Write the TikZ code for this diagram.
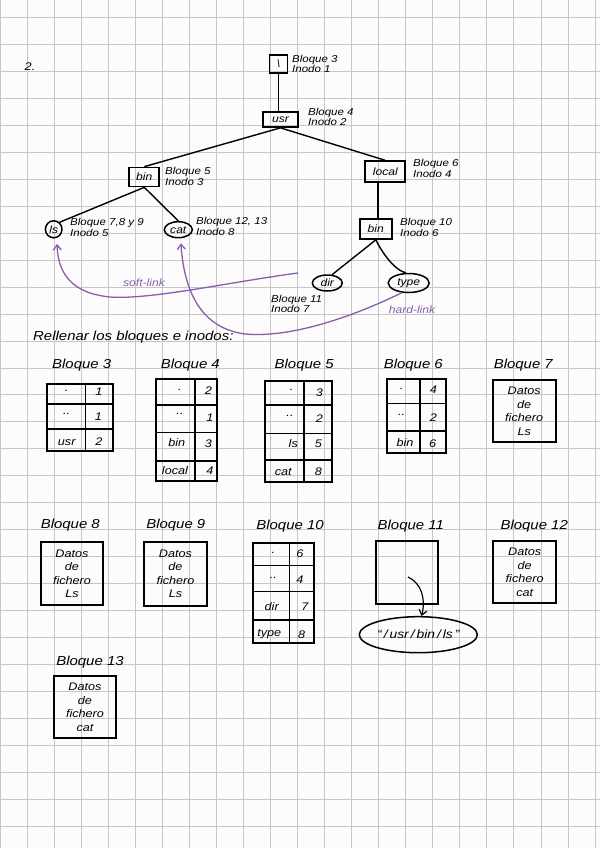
\documentclass[tikz,border=0pt]{standalone}
\usepackage{fontspec}
\setmainfont{Liberation Sans}[FakeStretch=1.15]
\usetikzlibrary{shapes.geometric,arrows.meta}
\definecolor{paper}{HTML}{FCFCFC}
\definecolor{gridc}{HTML}{C6C6C6}
\definecolor{linkc}{HTML}{8A5CAE}
\newcommand\hf[2]{\fontsize{#1}{#2}\selectfont\itshape}
\begin{document}
\begin{tikzpicture}[x=1pt,y=-1pt,
  gridline/.style={draw=gridc, line width=0.8pt},
  dirbox/.style={draw, line width=1.7pt, inner sep=0pt, font=\hf{10.5}{12}},
  fileell/.style={draw, ellipse, line width=1.5pt, inner sep=0pt, font=\hf{10.5}{12}},
  treeline/.style={line width=1.4pt},
  infolabel/.style={anchor=west, align=left, inner sep=0pt, font=\hf{10}{10.8}},
  headlabel/.style={inner sep=0pt, font=\hf{13}{14}},
  tcell/.style={inner sep=0pt, font=\hf{11}{13}},
  ttab/.style={line width=1.8pt},
  tline/.style={line width=1.5pt},
  dbox/.style={draw, line width=1.8pt, inner sep=0pt, align=center, font=\hf{11}{13.5}},
  linkpath/.style={draw=linkc, line width=1.3pt, -{Straight Barb[length=5pt,width=8pt]}},
  linklabel/.style={text=linkc, inner sep=0pt, font=\hf{10.5}{12}},
  blackarrow/.style={line width=1.2pt, -{Straight Barb[length=5pt,width=8pt]}},
]
% paper and grid
\fill[paper] (0,0) rectangle (600,848);
\useasboundingbox (0,0) rectangle (600,848);
\foreach \i in {0,...,22} \draw[gridline] ({0.3+27.03*\i},0) -- ++(0,848);
\foreach \j in {0,...,30} \draw[gridline] (0,{17.3+26.97*\j}) -- ++(600,0);

\node[inner sep=0pt, font=\hf{11}{13}] (num) at (30,67) {2.};

% ---------- tree ----------
\node[dirbox, minimum width=18, minimum height=18] (root) at (278.5,64) {\textbackslash};
\node[dirbox, minimum width=35, minimum height=15] (usr) at (280.5,119.5) {usr};
\node[dirbox, minimum width=30, minimum height=19] (bin) at (144.3,177) {bin};
\node[dirbox, minimum width=40, minimum height=21] (local) at (385.3,171.7) {local};
\node[dirbox, minimum width=31.7, minimum height=20] (bintwo) at (375.8,229) {bin};
\node[fileell, minimum width=16.6, minimum height=17] (ls) at (53.7,229.3) {ls};
\node[fileell, minimum width=28, minimum height=16] (cat) at (178.3,229.7) {cat};
\node[fileell, minimum width=30, minimum height=16] (dir) at (327.3,283) {dir};
\node[fileell, minimum width=41, minimum height=19] (type) at (408.7,283) {type};

\coordinate (localfoot) at (377.8,182.2);
\draw[treeline] (root.south) -- (root.south |- usr.north);
\draw[treeline] (usr.south) -- (bin.north);
\draw[treeline] (usr.south) -- (local.north);
\draw[treeline] (bin.south) -- (ls.50);
\draw[treeline] (bin.south) -- (cat.north);
\draw[treeline] (localfoot) -- (localfoot |- bintwo.north);
\draw[treeline] (bintwo.south) -- (dir.60);
\draw[treeline] (bintwo.south) .. controls +(8,16) and +(-10,-2) .. (type.105);

\node[infolabel] (lroot) at (292,64) {Bloque 3\\Inodo 1};
\node[infolabel] (lusr) at (308,117) {Bloque 4\\Inodo 2};
\node[infolabel] (lbin) at (165,176.5) {Bloque 5\\Inodo 3};
\node[infolabel] (llocal) at (413,168.5) {Bloque 6\\Inodo 4};
\node[infolabel] (lls) at (70,227.5) {Bloque 7,8 y 9\\Inodo 5};
\node[infolabel] (lcat) at (196,226.5) {Bloque 12, 13\\Inodo 8};
\node[infolabel] (lbintwo) at (400,227.5) {Bloque 10\\Inodo 6};
\node[infolabel] (ldir) at (271,304) {Bloque 11\\Inodo 7};

% links
\coordinate (slstart) at (298,273);
\draw[linkpath, shorten >=6pt] (slstart) .. controls (230,282) and (150,300) .. (110,297)
   .. controls (70,293) and (58,272) .. (ls.-70);
\draw[linkpath, shorten >=5pt] (type.235) .. controls (350,318) and (290,338) .. (245,334)
   .. controls (200,328) and (184,290) .. (cat.-75);
\node[linklabel] (softlbl) at (144,283) {soft-link};
\node[linklabel] (hardlbl) at (412,310) {hard-link};

\node[anchor=west, inner sep=0pt, font=\hf{13}{15}] (rellenar) at (33,337) {Rellenar los bloques e inodos:};

% ---------- row 1 ----------
\node[headlabel] (h3) at (81.7,365) {Bloque 3};
\node[headlabel] (h4) at (190.3,365) {Bloque 4};
\node[headlabel] (h5) at (304.2,365) {Bloque 5};
\node[headlabel] (h6) at (413.3,365) {Bloque 6};
\node[headlabel] (h7) at (523.3,365) {Bloque 7};

% Bloque 3
\draw[ttab] (46.7,384.3) rectangle (112.7,450.7);
\draw[tline] (85.7,384.3) -- (85.7,450.7) (46.7,404) -- (112.7,404) (46.7,429) -- (112.7,429);
\node[tcell] (t3a) at (66.7,391) {.};
\node[tcell] (t3b) at (99,392) {1};
\node[tcell] (t3c) at (66.7,414) {..};
\node[tcell] (t3d) at (98.3,417) {1};
\node[tcell] (t3e) at (66.7,443) {usr};
\node[tcell] (t3f) at (99,442) {2};

% Bloque 4
\draw[ttab] (156,379.3) rectangle (217.3,480.7);
\draw[tline] (195,379.3) -- (195,480.7) (156,405) -- (217.3,405) (156,432.3) -- (217.3,432.3) (156,461) -- (217.3,461);
\node[tcell] (t4a) at (180,390) {.};
\node[tcell] (t4b) at (208.3,391) {2};
\node[tcell] (t4c) at (180,414) {..};
\node[tcell] (t4d) at (210,417.5) {1};
\node[tcell] (t4e) at (176.7,443) {bin};
\node[tcell] (t4f) at (208.3,444) {3};
\node[tcell] (t4g) at (175,470.5) {local};
\node[tcell] (t4h) at (210,471) {4};

% Bloque 5
\draw[ttab] (265,381) rectangle (331.7,481.7);
\draw[tline] (304,381) -- (304,481.7) (265,405) -- (331.7,405) (265,433.3) -- (331.7,433.3) (265,460) -- (331.7,460);
\node[tcell] (t5a) at (291.7,390) {.};
\node[tcell] (t5b) at (319.3,392.5) {3};
\node[tcell] (t5c) at (290,416) {..};
\node[tcell] (t5d) at (319.3,419) {2};
\node[tcell] (t5e) at (293.3,444) {ls};
\node[tcell] (t5f) at (318.3,444) {5};
\node[tcell] (t5g) at (283.3,471.5) {cat};
\node[tcell] (t5h) at (318.3,471.5) {8};

% Bloque 6
\draw[ttab] (387.3,379.3) rectangle (445.7,453.3);
\draw[tline] (420,379.3) -- (420,453.3) (387.3,403.3) -- (445.7,403.3) (387.3,431) -- (445.7,431);
\node[tcell] (t6a) at (401.7,388.5) {.};
\node[tcell] (t6b) at (433.3,390) {4};
\node[tcell] (t6c) at (401.7,415) {..};
\node[tcell] (t6d) at (433.3,417.5) {2};
\node[tcell] (t6e) at (405,443) {bin};
\node[tcell] (t6f) at (432.7,444) {6};

% Bloque 7
\node[dbox, minimum width=63, minimum height=62.3] (b7) at (524.2,411.2) {Datos\\de\\fichero\\Ls};

% ---------- row 2 ----------
\node[headlabel] (h8) at (70.3,525) {Bloque 8};
\node[headlabel] (h9) at (175.8,525) {Bloque 9};
\node[headlabel] (h10) at (290,526) {Bloque 10};
\node[headlabel] (h11) at (410.8,526) {Bloque 11};
\node[headlabel] (h12) at (534.2,526) {Bloque 12};

\node[dbox, minimum width=62.6, minimum height=62.7] (b8) at (72,573.7) {Datos\\de\\fichero\\Ls};
\node[dbox, minimum width=62.4, minimum height=63.4] (b9) at (175.5,574) {Datos\\de\\fichero\\Ls};

% Bloque 10
\draw[ttab] (252.7,543.3) rectangle (314,642.7);
\draw[tline] (289.3,543.3) -- (289.3,642.7) (252.7,565.7) -- (314,565.7) (252.7,591.7) -- (314,591.7) (252.7,620) -- (314,620);
\node[tcell] (t10a) at (273.3,552.5) {.};
\node[tcell] (t10b) at (300,553.3) {6};
\node[tcell] (t10c) at (273.3,578.3) {..};
\node[tcell] (t10d) at (300,580) {4};
\node[tcell] (t10e) at (271.7,606.5) {dir};
\node[tcell] (t10f) at (305,606.7) {7};
\node[tcell] (t10g) at (269.3,634) {type};
\node[tcell] (t10h) at (301.7,634.5) {8};

% Bloque 11
\node[draw, line width=1.8pt, minimum width=62.6, minimum height=63, inner sep=0pt] (b11) at (407,572.5) {};
\node[draw, ellipse, line width=1.5pt, minimum width=118, minimum height=36, inner sep=0pt, font=\hf{12}{14}] (lnk) at (418.3,634.7) {“\,/\,usr\,/\,bin\,/\,ls\,”};
\coordinate (arrstart) at (408,577);
\draw[blackarrow] (arrstart) .. controls (421,583) and (426,598) .. (lnk.80);

% Bloque 12
\node[dbox, minimum width=62.7, minimum height=62.3] (b12) at (524.7,572.2) {Datos\\de\\fichero\\cat};

% ---------- row 3 ----------
\node[headlabel] (h13) at (90,662) {Bloque 13};
\node[dbox, minimum width=62, minimum height=62.3] (b13) at (85,707.2) {Datos\\de\\fichero\\cat};
\end{tikzpicture}
\end{document}
